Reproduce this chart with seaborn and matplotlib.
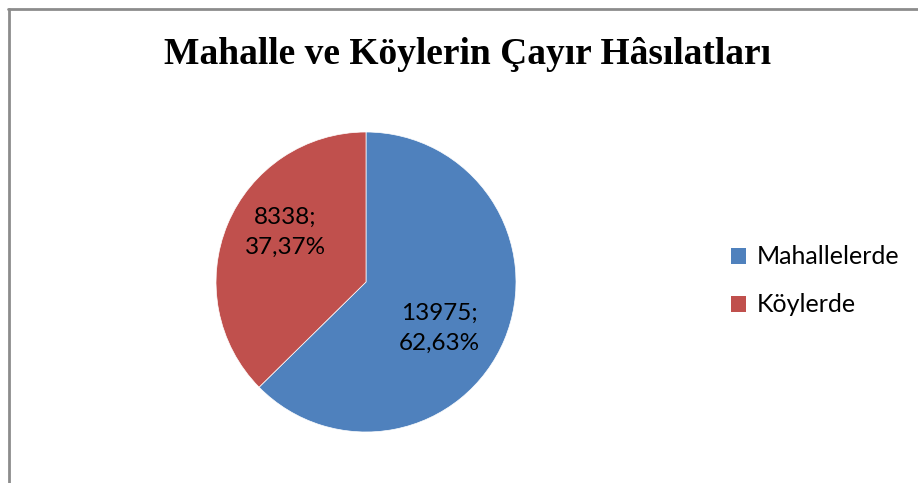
import matplotlib
matplotlib.use("Agg")
import matplotlib.pyplot as plt
import seaborn as sns
from matplotlib.lines import Line2D
from matplotlib.patches import Patch

categories = ["Mahallelerde", "Köylerde"]
values = [13975, 8338]
percent_labels = ["62,63%", "37,37%"]
colors = ["#4F81BD", "#C0504D"]
title = "Mahalle ve Köylerin Çayır Hâsılatları"

sns.set_theme(style="white")
plt.rcParams["font.family"] = ["Lato", "DejaVu Sans"]
plt.rcParams["text.color"] = "black"

fig = plt.figure(figsize=(9.18, 4.83), dpi=100)
fig.patch.set_facecolor("white")

# frame lines (left and top only visible)
fig.add_artist(Line2D([8.5/918, 8.5/918], [0, 1 - 9/483], color="#8c8c8c", lw=2,
                      transform=fig.transFigure))
fig.add_artist(Line2D([8/918, 1], [1 - 9/483, 1 - 9/483], color="#8c8c8c", lw=2,
                      transform=fig.transFigure))

ax = fig.add_axes([216/918, 51/483, 300/918, 300/483])
wedges, _ = ax.pie(values, colors=colors, startangle=90, counterclock=False,
                   radius=1, wedgeprops=dict(edgecolor="white", linewidth=0.5))
ax.set_xlim(-1, 1)
ax.set_ylim(-1, 1)
ax.set_aspect("equal")
ax.axis("off")

label_pos = [(0.49, -0.31), (-0.54, 0.33)]
for (x, y), v, p in zip(label_pos, values, percent_labels):
    ax.text(x, y, f"{v};\n{p}", ha="center", va="center", fontsize=17.5,
            color="black", linespacing=1.55)

fig.text(468/918, 1 - 55/483, title, ha="center", va="center", color="black",
         fontsize=27, fontweight="bold", family="Liberation Serif")

handles = [Patch(facecolor=c, edgecolor="none") for c in colors]
leg = fig.legend(handles, categories, loc="center left",
                 bbox_to_anchor=(708/918, 1 - 281/483), frameon=False,
                 fontsize=18, handlelength=0.6, handleheight=0.6,
                 handletextpad=0.45, labelspacing=1.0, labelcolor="black")

fig.savefig("out.png", dpi=100)
